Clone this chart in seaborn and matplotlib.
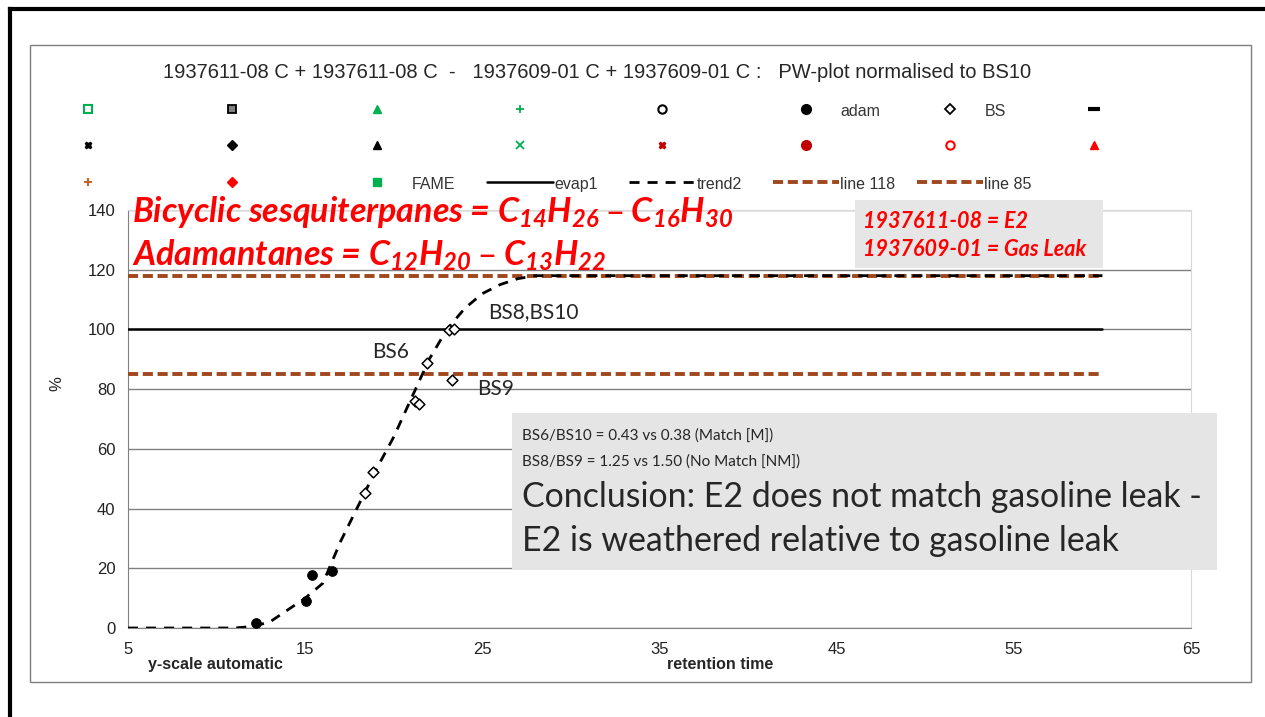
import numpy as np
import pandas as pd
import seaborn as sns
import matplotlib.pyplot as plt
from matplotlib.lines import Line2D
from matplotlib.patches import Rectangle

sns.set_style("white")
plt.rcParams['font.family'] = ['Liberation Sans', 'DejaVu Sans']
plt.rcParams['mathtext.default'] = 'regular'

# data
adam_x = [12.2, 15.05, 15.4, 16.5]
adam_y = [1.7, 9.0, 17.6, 19.2]
bs_x = [18.4, 18.85, 21.2, 21.45, 21.9, 23.3, 23.1, 23.4]
bs_y = [45.2, 52.2, 76.0, 75.0, 88.7, 83.0, 99.8, 100.0]
trend_x = [5, 11, 12, 13, 14, 15, 16, 17, 18, 19, 20, 21, 22, 23, 24, 25, 26, 27, 28, 60]
trend_y = [0, 0, 0.5, 2, 6, 10, 15, 29, 41, 53, 64, 77, 90, 100, 107, 112, 115, 117, 118, 118]
ref_x = [5, 60]
evap_y = [100, 100]
line118_y = [118, 118]
line85_y = [85, 85]

bs_labels = ["BS8,BS10", "BS6", "BS9"]
bs_label_pos = [(25.3, 105.8), (18.8, 92.5), (24.7, 80.1)]

title = "1937611-08 C + 1937611-08 C  -   1937609-01 C + 1937609-01 C :   PW-plot normalised to BS10"

brown = '#A0481D'
green = '#00B050'
dred = '#C00000'
red = '#FF0000'
W, H = 1265, 717

fig = plt.figure(figsize=(12.65, 7.17), dpi=100)
ax = fig.add_axes([128 / W, 1 - 628 / H, (1191 - 128) / W, (628 - 210) / H])

# frames
fig.add_artist(Line2D([10 / W, 10 / W], [0, 1 - 9 / H], transform=fig.transFigure,
                      lw=3, color='black', solid_capstyle='projecting'))
fig.add_artist(Line2D([10 / W, 1], [1 - 9 / H, 1 - 9 / H], transform=fig.transFigure,
                      lw=3, color='black', solid_capstyle='projecting'))
fig.add_artist(Rectangle((30 / W, 1 - 682 / H), (1251 - 30) / W, (682 - 45) / H,
                         transform=fig.transFigure, fill=False, lw=1, ec='#7f7f7f'))

lines_df = pd.DataFrame({"x": trend_x, "y": trend_y})
sns.lineplot(data=lines_df, x="x", y="y", ax=ax, color='black', lw=2,
             linestyle=(0, (3.6, 2.9)), zorder=4)
sns.lineplot(x=ref_x, y=evap_y, ax=ax, color='black', lw=1.8, zorder=3)
sns.lineplot(x=ref_x, y=line118_y, ax=ax, color=brown, lw=2.8,
             linestyle=(0, (2.6, 1.2)), zorder=3)
sns.lineplot(x=ref_x, y=line85_y, ax=ax, color=brown, lw=2.8,
             linestyle=(0, (2.6, 1.2)), zorder=3)
sns.scatterplot(x=adam_x, y=adam_y, ax=ax, color='black', s=50, edgecolor='black', zorder=5)
sns.scatterplot(x=bs_x, y=bs_y, ax=ax, marker='D', s=30, facecolor='white',
                edgecolor='black', linewidth=1.1, zorder=5)

for lab, (lx, ly) in zip(bs_labels, bs_label_pos):
    ax.text(lx, ly, lab, fontsize=15, family='Lato', va='center', ha='left', zorder=6)

ax.set_xlim(5, 65)
ax.set_ylim(0, 140)
ax.set_xticks([5, 15, 25, 35, 45, 55, 65])
ax.set_yticks(range(0, 141, 20))
ax.yaxis.grid(True, color='#808080', lw=1)
ax.xaxis.grid(False)
for s in ['left', 'bottom']:
    ax.spines[s].set_color('#808080')
for s in ['top', 'right']:
    ax.spines[s].set_color('#d9d9d9')
ax.tick_params(direction='out', length=5, width=1, color='#808080', labelsize=12,
               labelcolor='#222222')
ax.tick_params(axis='x', pad=5)
ax.tick_params(axis='y', pad=4)
ax.set_xlabel("retention time", fontsize=11.5, fontweight='bold')
ax.xaxis.set_label_coords((720 - 128) / 1063, -(657 - 628) / 418)
ax.set_ylabel("%", fontsize=12)
ax.yaxis.set_label_coords((64 - 128) / 1063, (628 - 384) / 418)
fig.text(215 / W, 1 - 665 / H, "y-scale automatic", fontsize=11.5, fontweight='bold',
         ha='center', va='center')

fig.text(597 / W, 1 - 73 / H, title, fontsize=14.5, ha='center', va='center')

# legend, column by column
cols = [
    [(dict(marker='s', mfc='white', mec=green, mew=1.5), ""),
     (dict(marker='X', mfc='black', mec='black', ms=5), ""),
     (dict(marker='+', mec='#C0662B', mew=1.5), "")],
    [(dict(marker='s', mfc='#808080', mec='black', mew=1.3), ""),
     (dict(marker='D', mfc='black', mec='black', ms=5), ""),
     (dict(marker='D', mfc=red, mec=red, ms=5), "")],
    [(dict(marker='^', mfc=green, mec=green), ""),
     (dict(marker='^', mfc='black', mec='black'), ""),
     (dict(marker='s', mfc=green, mec=green), "FAME")],
    [(dict(marker='+', mec=green, mew=1.3), ""),
     (dict(marker='x', mec=green, mew=1.3), ""),
     (dict(color='black', lw=1.8), "evap1")],
    [(dict(marker='o', mfc='white', mec='black', mew=1.5), ""),
     (dict(marker='X', mfc=dred, mec=dred, ms=5), ""),
     (dict(color='black', lw=2, ls=(0, (3.6, 2.9))), "trend2")],
    [(dict(marker='o', mfc='black', mec='black', ms=7), "adam"),
     (dict(marker='o', mfc=dred, mec=dred, ms=7), ""),
     (dict(color=brown, lw=2.8, ls=(0, (2.6, 1.2))), "line 118")],
    [(dict(marker='D', mfc='white', mec='black', mew=1.3, ms=5), "BS"),
     (dict(marker='o', mfc='white', mec=red, mew=1.5), ""),
     (dict(color=brown, lw=2.8, ls=(0, (2.6, 1.2))), "line 85")],
    [(dict(marker='_', mec='black', mew=3, ms=8), ""),
     (dict(marker='^', mfc=red, mec=red), "")],
]
col_centers = [88, 232, 377, 520, 662, 806, 950, 1094]
leg_fs = 11.5
fs_px = leg_fs * 100 / 72
hl = 4.1
for cx, col in zip(col_centers, cols):
    handles = []
    labels = []
    for kw, lab in col:
        kw = dict(kw)
        if 'marker' in kw:
            kw.setdefault('ms', 6)
            kw.setdefault('ls', 'none')
        handles.append(Line2D([], [], **kw))
        labels.append(lab)
    leg = fig.legend(handles, labels, loc='upper left',
                     bbox_to_anchor=((cx - hl * fs_px / 2) / W, 1 - 102 / H),
                     frameon=False, fontsize=leg_fs, handlelength=hl, handleheight=1.2,
                     handletextpad=0.1, labelspacing=1.26, borderpad=0, borderaxespad=0)
    for t in leg.get_texts():
        t.set_color('#333333')

# red formula text
fig.text(132 / W, 1 - 222 / H,
         "Bicyclic sesquiterpanes = C$_{14}$H$_{26}$ – C$_{16}$H$_{30}$",
         family='Lato', fontsize=24.5, fontweight='bold', fontstyle='italic',
         color=red, va='baseline', ha='left', zorder=10)
fig.text(132 / W, 1 - 266 / H,
         "Adamantanes = C$_{12}$H$_{20}$ – C$_{13}$H$_{22}$",
         family='Lato', fontsize=24.5, fontweight='bold', fontstyle='italic',
         color=red, va='baseline', ha='left', zorder=10)

# sample key box
fig.add_artist(Rectangle((855 / W, 1 - 268 / H), (1103 - 855) / W, (268 - 200) / H,
                         transform=fig.transFigure, fc='#e6e6e6', ec='none', zorder=8))
fig.text(863 / W, 1 - 222 / H, "1937611-08 = E2", family='Lato', fontsize=15.5,
         fontweight='bold', fontstyle='italic', color=red, va='center', zorder=9)
fig.text(863 / W, 1 - 250 / H, "1937609-01 = Gas Leak", family='Lato', fontsize=15.5,
         fontweight='bold', fontstyle='italic', color=red, va='center', zorder=9)

# conclusion box
fig.add_artist(Rectangle((512 / W, 1 - 570 / H), (1217 - 512) / W, (570 - 413) / H,
                         transform=fig.transFigure, fc='#e5e5e5', ec='none', zorder=8))
fig.text(522 / W, 1 - 436 / H, "BS6/BS10 = 0.43 vs 0.38 (Match [M])", family='Lato',
         fontsize=11, va='center', zorder=9)
fig.text(522 / W, 1 - 462 / H, "BS8/BS9 = 1.25 vs 1.50 (No Match [NM])", family='Lato',
         fontsize=11, va='center', zorder=9)
fig.text(522 / W, 1 - 497 / H, "Conclusion: E2 does not match gasoline leak -",
         family='Lato', fontsize=24.4, va='center', zorder=9)
fig.text(522 / W, 1 - 541 / H, "E2 is weathered relative to gasoline leak",
         family='Lato', fontsize=24.4, va='center', zorder=9)

fig.savefig("out.png", dpi=100)
